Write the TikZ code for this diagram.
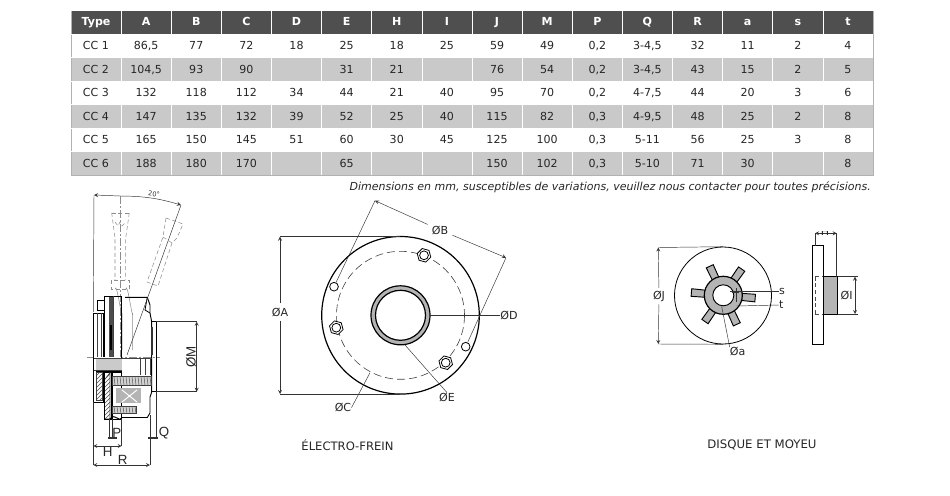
\documentclass[tikz,border=0pt]{standalone}
\usepackage{fontspec}
\setmainfont{DejaVu Sans}
\newfontfamily\arialfont{Liberation Sans}
\usetikzlibrary{positioning, arrows, patterns, calc}
\definecolor{headgray}{HTML}{4F4F4F}
\definecolor{rowgray}{HTML}{C9C9C9}
\definecolor{fillgray}{HTML}{B4B4B4}
\tikzset{
  cell/.style={inner sep=0pt, text height=6pt, text depth=1.5pt, font=\fontsize{8.3}{10}\selectfont, text=black!85},
  headcell/.style={inner sep=0pt, text height=6pt, text depth=1.5pt, font=\fontsize{8.3}{10}\selectfont\bfseries, text=white},
  dimtext/.style={inner sep=0pt, font=\fontsize{8.3}{10}\selectfont, text=black!85},
  armtext/.style={inner sep=0pt, font=\fontsize{10}{12}\selectfont\arialfont, text=black!85},
  dimline/.style={draw=black!80, line width=0.35pt},
  dimarrow/.style={dimline, <->, >=stealth},
  part/.style={draw=black, line width=0.8pt},
  thin part/.style={draw=black!75, line width=0.45pt},
  ghost/.style={draw=black!45, line width=0.4pt, densely dashed},
  axis/.style={draw=black!45, line width=0.3pt, dash pattern=on 6pt off 1.5pt on 1.5pt off 1.5pt},
}
\newcommand{\hexnut}[1]{
  \draw[part, line width=0.6pt, fill=white] (#1) ++(15:7) -- ++(135:7) -- ++(195:7) -- ++(255:7) -- ++(315:7) -- ++(15:7) -- cycle;
  \draw[part, line width=0.6pt] (#1) circle (4.4);
}
\begin{document}
\begin{tikzpicture}[x=0.75pt, y=-0.75pt]
\useasboundingbox (0,0) rectangle (950,496);
% table
\fill[headgray] (71,11) rectangle (873,34);
\foreach \r in {1,3,5} \fill[rowgray] (71,{34+23.5*\r}) rectangle (873,{34+23.5*(\r+1)});
\draw[black!30, line width=0.4pt] (71,11) -- (71,175) -- (873,175) -- (873,11);
\foreach \c in {1,...,15} \draw[white, line width=0.6pt] ({71+50.13*\c},11) -- ({71+50.13*\c},175);
\foreach \r in {1,...,6} \draw[white, line width=0.6pt] (71,{34+23.5*(\r-1)}) -- (873,{34+23.5*(\r-1)});
\foreach \t [count=\c from 0] in {Type,A,B,C,D,E,H,I,J,M,P,Q,R,a,s,t}
  \node[headcell] (head\c) at ({96+50.13*\c},23) {\t};
\foreach \t [count=\c from 0] in {CC 1,86{,}5,77,72,18,25,18,25,59,49,{0{,}2},3-4{,}5,32,11,2,4}
  \node[cell] (one\c) at ({96+50.13*\c},46.5) {\t};
\foreach \t [count=\c from 0] in {CC 2,104{,}5,93,90,,31,21,,76,54,{0{,}2},3-4{,}5,43,15,2,5}
  \node[cell] (two\c) at ({96+50.13*\c},70) {\t};
\foreach \t [count=\c from 0] in {CC 3,132,118,112,34,44,21,40,95,70,{0{,}2},4-7{,}5,44,20,3,6}
  \node[cell] (three\c) at ({96+50.13*\c},93.5) {\t};
\foreach \t [count=\c from 0] in {CC 4,147,135,132,39,52,25,40,115,82,{0{,}3},4-9{,}5,48,25,2,8}
  \node[cell] (four\c) at ({96+50.13*\c},117) {\t};
\foreach \t [count=\c from 0] in {CC 5,165,150,145,51,60,30,45,125,100,{0{,}3},5-11,56,25,3,8}
  \node[cell] (five\c) at ({96+50.13*\c},140.5) {\t};
\foreach \t [count=\c from 0] in {CC 6,188,180,170,,65,,,150,102,{0{,}3},5-10,71,30,,8}
  \node[cell] (six\c) at ({96+50.13*\c},164) {\t};
\node[dimtext, anchor=east, font=\fontsize{8.25}{10}\selectfont\itshape] (note) at (871,187) {Dimensions en mm, susceptibles de variations, veuillez nous contacter pour toutes précisions.};

% frein, face
\coordinate (fc) at (400.5,315.3);
\draw[part, line width=0.9pt] (fc) circle (78.8);
\draw[thin part, dash pattern=on 6pt off 3pt] (fc) circle (64);
\draw[part, fill=fillgray, line width=0.9pt] (fc) circle (29.5);
\draw[part, fill=white, line width=0.9pt] (fc) circle (25);
\node[inner sep=0pt] (nuta) at (424,255.3) {}; \hexnut{nuta}
\node[inner sep=0pt] (nutb) at (336.3,327.7) {}; \hexnut{nutb}
\node[inner sep=0pt] (nutc) at (445.7,362.7) {}; \hexnut{nutc}
\node[draw, circle, line width=0.6pt, minimum size=6.5pt, inner sep=0pt] (holea) at (334,286.7) {};
\node[draw, circle, line width=0.6pt, minimum size=6.5pt, inner sep=0pt] (holeb) at (465.7,346.7) {};
\node[dimtext, inner sep=3pt] (labA) at (280,312) {ØA};
\node[dimtext, inner sep=3pt] (labB) at (440,230) {ØB};
\node[dimtext] (labC) at (343,407.7) {ØC};
\node[dimtext] (labD) at (509,315) {ØD};
\node[dimtext] (labE) at (447,397.3) {ØE};
\coordinate (atop) at (280,236.7); \coordinate (abot) at (280,394);
\draw[dimline, ->, >=stealth] (labA) -- (atop); \draw[dimline, ->, >=stealth] (labA) -- (abot);
\draw[dimline] (atop) -- (400,236.7) (abot) -- (400,394);
\coordinate (bl) at (375,200.7); \coordinate (br) at (506,257.7);
\draw[dimline, ->, >=stealth] (labB) -- (bl);
\draw[dimline, ->, >=stealth] (labB) -- (br);
\draw[dimline] (bl) -- (holea) (br) -- (holeb);
\draw[dimline] (labC.east) -- (370,372.7);
\draw[dimline] (labD.west) -- (430,315);
\draw[dimline] (labE.north) -- (405,345);
\node[dimtext, font=\fontsize{8.7}{10}\selectfont] (titlea) at (347.5,445) {ÉLECTRO-FREIN};

% disque, face
\coordinate (dc) at (723,295.5);
\draw[part, line width=0.6pt] (dc) circle (48.5);
\coordinate (hub) at (723.3,295.3);
\foreach \a in {-5,55,115,175,235,295}
  \draw[part, line width=0.7pt, fill=fillgray, rotate around={\a:(hub)}] ($(hub)+(16,-3.5)$) -- ++(16,-0.3) -- ++(0,7.6) -- ++(-16,-0.3) -- cycle;
\draw[part, line width=0.9pt, fill=fillgray] (hub) circle (19);
\draw[part, line width=0.7pt, fill=white] (hub) circle (10.5);
\node[dimtext, inner sep=2pt] (labJ) at (659,296) {ØJ};
\node[dimtext] (labs) at (782,291.7) {s};
\node[dimtext] (labt) at (781.3,305) {t};
\node[dimtext] (laba) at (737.7,351.7) {Øa};
\coordinate (jtop) at (658.3,247.5); \coordinate (jbot) at (658.3,344);
\draw[dimline, ->, >=stealth] (labJ) -- (jtop); \draw[dimline, ->, >=stealth] (labJ) -- (jbot);
\draw[dimline] (jtop) -- (723,246.7) (jbot) -- (723,344.3);
\draw[dimline] (730,291.7) -- (labs.west);
\draw[dimline] (736.7,306) -- (labt.west);
\draw[dimline] (721.7,306.7) -- (laba.north west);
\draw[dimline, line width=0.6pt] (736,288) -- (736,302);
\draw[dimline, line width=0.6pt] (731.7,292.7) -- (739.3,292.7);
% disque, coupe
\draw[part, line width=0.6pt] (812.7,245.7) rectangle (823.3,344.3);
\draw[part, line width=0.6pt, fill=fillgray] (823.3,276.7) rectangle (837.7,314);
\draw[ghost, black!70] (815,276.7) -- (815,314) (815,276.7) -- (823.3,276.7) (815,314) -- (823.3,314);
\node[dimtext] (labI) at (846.7,295) {ØI};
\coordinate (itop) at (855,276.7); \coordinate (ibot) at (855,314);
\draw[dimline] (837.7,276.7) -- (858,276.7) (837.7,314) -- (858,314);
\draw[dimarrow] (itop) -- (ibot);
\coordinate (hl) at (815,233.3); \coordinate (hr) at (836.7,233.3);
\draw[dimarrow] (hl) -- (hr);
\draw[dimline] (hl) -- (815,245.7) (hr) -- (836.7,276.7);
\begin{scope}
  \clip (810,231) rectangle (840,240);
  \node[dimtext] (labH) at (825,231) {H};
\end{scope}
\node[dimtext, font=\fontsize{8.8}{10}\selectfont] (titleb) at (762,445) {DISQUE ET MOYEU};

% coupe frein
\draw[axis] (87,357) -- (160,357);
\draw[axis] (120,196) -- (120,357);
% poignees
\draw[ghost] (111.7,213) -- (115,238) -- (115,280) (129.3,213) -- (125.7,238) -- (125.7,280);
\draw[ghost] (111.7,213) -- (129.3,213);
\draw[ghost] (115,222) -- (118,226) -- (120,222) -- (122,226) -- (126,222);
\draw[ghost] (111.7,280) rectangle (129,289.3);
\draw[ghost, solid] (115,289.3) to[out=80, in=-90] (122,313) -- (122,350);
\draw[ghost, solid] (125.7,289.3) to[out=80, in=-90] (132.7,313) -- (132.7,350);
\draw[ghost] (166,218) -- (183,224) -- (177,238) (166,218) -- (163,237) -- (147,282) -- (158,286) -- (172,243) -- (177,238);
\draw[ghost] (163,237) -- (172,243);
% plaques
\draw[part, line width=0.6pt] (93.3,313) rectangle (103,402);
\draw[thin part] (97.7,313) -- (97.7,357) (101.7,313) -- (101.7,357);
\draw[part, line width=0.5pt, fill=white] (97.7,300) rectangle (104.3,310);
\draw[part, line width=0.6pt] (104.3,296) rectangle (121,419);
\fill[black!70] (109.3,297) rectangle (112.7,357);
\fill[black] (110.3,325) rectangle (111.7,350);
\draw[thin part] (113.3,296) -- (113.3,419);
% corps
\draw[part, line width=0.7pt] (125,297.3) -- (147.3,297.3) -- (150,305) -- (150,313) -- (151.7,322) -- (151.7,392) -- (150,397) -- (150,413) -- (147.3,417.5) -- (121,417.5);
\draw[part, line width=0.6pt] (147.3,297.3) -- (145,310) -- (150,313);
\draw[part, line width=0.7pt] (151.7,321.7) -- (156,321.7) -- (156,391.7) -- (151.7,391.7);
\fill[black!80] (150.7,326.7) rectangle (152.7,355);
% coupe
\fill[white] (93.8,357) rectangle (120.5,401);
\fill[white] (104.8,357) rectangle (120.5,418.5);
\fill[fillgray!70] (96,358) rectangle (121.7,370);
\draw[thin part] (93.3,358) -- (121.7,358) (93.3,370) -- (121.7,370);
\draw[black, line width=0.8pt] (96,372) -- (121.7,372);
\draw[part, line width=0.6pt] (93.3,357) -- (93.3,402) -- (103,402) -- (103,372);
\draw[thin part, pattern=north east lines, pattern color=black!70] (96,372.7) rectangle (102.7,400);
\draw[thin part, pattern=north east lines, pattern color=black!70] (104.3,380) -- (110,372.7) -- (110,419) -- (104.3,419) -- cycle;
\draw[part, line width=0.6pt] (104.3,372) -- (104.3,419) -- (121,419) -- (121,372);
\draw[black, line width=1pt] (112,372.7) -- (112,419);
\fill[white] (122,358) rectangle (151,375);
\draw[thin part] (121.7,358) -- (151.7,358) (140,358) -- (140,375) (145,358) -- (145,375) (150.7,358) -- (150.7,375);
\draw[thin part, fill=fillgray!60] (112.7,376.7) rectangle (151.7,385);
\foreach \i in {0,...,12}
  \draw[black!65, line width=0.4pt] ({114+3*\i},376.7) -- ({115+3*\i},385);
\fill[fillgray] (116,388) rectangle (141,403.3);
\draw[white, line width=0.7pt] (122,390) -- (137,402) (137,390) -- (122,402);
\draw[thin part, fill=fillgray!60] (112.7,406.7) rectangle (136.7,413.3);
\foreach \i in {0,...,7}
  \draw[black!65, line width=0.4pt] ({114+3*\i},406.7) -- ({115+3*\i},413.3);
\draw[part, line width=0.7pt] (110,419) .. controls (113,416) and (115,416) .. (117,418) .. controls (119,420) and (121,420) .. (122,417.5);
% cotes
\coordinate (arca) at (94,195); \coordinate (arcb) at (181,205);
\draw[dimline] (arca) -- (93.3,312);
\draw[dimline, <-, >=stealth] (arca) -- (120,196);
\draw[dimline, ->, >=stealth] (120,196) to[bend left=8] (arcb);
\draw[dimline] (arcb) -- (127,355);
\node[inner sep=0pt, rotate=-8, font=\fontsize{5}{6}\selectfont, text=black!80] (ang) at (154,194) {20°};
\node[armtext, rotate=90] (labM) at (191,357) {ØM};
\coordinate (mtop) at (196.7,321.7); \coordinate (mbot) at (196.7,391.7);
\draw[dimline] (156,321.7) -- (mtop) (156,391.7) -- (mbot);
\draw[dimarrow] (mtop) -- (mbot);
\node[armtext] (labP) at (116.7,432.7) {P};
\node[armtext] (labQ) at (164,433) {Q};
\node[armtext] (labHH) at (107.7,452) {H};
\node[armtext] (labR) at (122.7,460) {R};
\coordinate (rl) at (93.3,465); \coordinate (rr) at (150,465);
\draw[dimarrow] (rl) -- (rr);
\draw[dimline] (rl) -- (93.3,402) (rr) -- (150,417.5);
\coordinate (hhl) at (93.3,446); \coordinate (hhr) at (121.7,446);
\draw[dimarrow] (hhl) -- (hhr);
\draw[dimline] (hhr) -- (121.7,419);
\coordinate (pl) at (109.3,438); \coordinate (pr) at (112.7,438);
\draw[dimline] (pl) -- (109.3,419) (pr) -- (112.7,419);
\draw[dimline, line width=0.9pt] (108,438) -- (117,438);
\coordinate (ql) at (150.7,438); \coordinate (qr) at (156,438);
\draw[dimline] (ql) -- (150.7,415) (qr) -- (156,392);
\draw[dimline, line width=0.9pt] (148,438) -- (158,438);
\end{tikzpicture}
\end{document}
